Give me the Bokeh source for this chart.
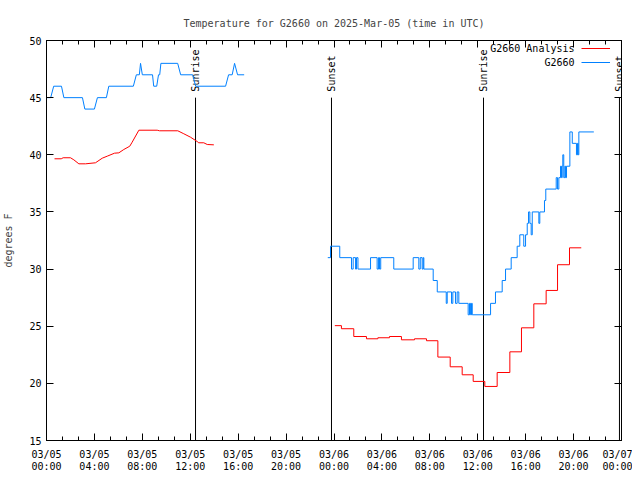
import pandas as pd
from math import pi
from bokeh.plotting import figure
from bokeh.models import (Range1d, FixedTicker, DatetimeTickFormatter, LinearAxis,
                          DatetimeAxis, Legend, LegendItem, Label)
from bokeh.core.properties import value
from bokeh.embed import file_html
from bokeh.resources import INLINE

FONT = "DejaVu Sans Mono"
START = pd.Timestamp("2025-03-05 00:00")
END = pd.Timestamp("2025-03-07 00:00")
Y_MIN, Y_MAX = 15, 50
LABEL_LEVEL = 45

# ---- data (hours since 03/05 00:00 UTC, degrees F) ----
obs1_hours = [0.05, 0.35, 0.6, 1.25, 1.45, 3.0, 3.2, 4.0, 4.25, 5.0, 5.2, 7.25, 7.5,
              7.75, 7.85, 8.0, 8.85, 8.95, 9.2, 9.35, 9.45, 9.55, 10.95, 11.2, 12.2,
              12.45, 14.95, 15.2, 15.5, 15.7, 15.95, 16.5]
obs1_temp = [45, 45, 46, 46, 45, 45, 44, 44, 45, 45, 46, 46, 47,
             47, 48, 47, 47, 46, 46, 47, 47, 48, 48, 47, 47,
             46, 46, 47, 47, 48, 47, 47]

obs2_hours = [23.48, 23.71, 24.48, 25.46, 25.6, 25.8, 25.88, 26.0, 27.05, 27.6, 27.72,
              27.8, 27.9, 28.99, 30.61, 31.08, 31.2, 31.36, 31.45, 31.5, 32.28, 32.62,
              33.37, 33.45, 33.81, 33.92, 34.14, 34.28, 34.42, 35.2, 35.31, 35.4, 35.48,
              35.54, 37.07, 37.48, 38.04, 38.32, 38.79, 39.29, 39.51, 39.84, 39.99,
              40.13, 40.24, 40.35, 40.46, 40.55, 41.1, 41.18, 41.57, 41.68, 42.55,
              42.66, 42.77, 42.91, 42.99, 43.05, 43.1, 43.18, 43.27, 43.33, 43.41,
              43.69, 43.89, 44.24, 44.33, 44.38, 44.44, 45.69]
obs2_temp = [31, 32, 31, 30, 31, 30, 31, 30, 31, 30, 31,
             30, 31, 30, 31, 30, 31, 30, 31, 30, 29, 28,
             27, 28, 27, 28, 27, 28, 27, 26, 27, 26, 27,
             26, 27, 28, 29, 30, 31, 32, 33, 32, 33,
             34, 35, 34, 33, 35, 34, 35, 36, 37, 38,
             37, 38, 39, 38, 39, 40, 38, 39, 38, 39,
             42, 41, 40, 41, 40, 42, 42]

ana1_hours = [0.67, 1.23, 1.39, 2.0, 2.28, 2.70, 3.26, 4.09, 4.65, 5.07, 5.68, 6.04,
              6.45, 6.95, 7.15, 7.71, 9.24, 9.43, 10.96, 11.46, 12.02, 12.58, 12.71,
              13.13, 13.42, 13.97]
ana1_temp = [39.65, 39.65, 39.74, 39.74, 39.56, 39.21, 39.21, 39.3, 39.7, 39.88, 40.14,
             40.17, 40.46, 40.75, 41.1, 42.15, 42.15, 42.1, 42.1, 41.84, 41.54, 41.16,
             41.05, 41.05, 40.9, 40.87]

ana2_hours = [24.07, 24.62, 25.65, 26.71, 27.66, 28.63, 29.63, 30.72, 31.72, 32.67,
              33.70, 34.70, 35.62, 36.59, 37.62, 38.68, 39.65, 40.68, 41.71, 42.66,
              43.66, 44.64]
ana2_temp = [25.05, 24.78, 24.1, 23.9, 23.99, 24.1, 23.81, 23.9, 23.73, 22.3,
             21.45, 20.75, 20.17, 19.73, 20.95, 22.76, 24.86, 26.96, 28.13, 30.38,
             31.86, 31.86]

event_hours = [12.44, 23.79, 36.48, 47.83]
event_labels = ["Sunrise", "Sunset", "Sunrise", "Sunset"]

series_names = ["G2660 Analysis", "G2660"]
RED = "#ff0000"
BLUE = "#0080ff"


def to_time(hours):
    return [START + pd.Timedelta(hours=h) for h in hours]


def ms(ts):
    return ts.value / 1e6


p = figure(frame_width=575, frame_height=400, x_axis_type=None, y_axis_type=None,
           x_range=Range1d(START.to_pydatetime(), END.to_pydatetime()),
           y_range=Range1d(Y_MIN, Y_MAX),
           output_backend="svg", toolbar_location=None,
           min_border_left=38, min_border_right=11, min_border_top=40,
           min_border_bottom=32)
p.background_fill_color = "white"
p.border_fill_color = "white"
p.outline_line_color = "black"
p.outline_line_width = 1

p.title.text = "Temperature for G2660 on 2025-Mar-05 (time in UTC)"
p.title.align = "center"
p.title.text_font = FONT
p.title.text_font_size = "10px"
p.title.text_font_style = "normal"
p.title.standoff = 24

major = [ms(START + pd.Timedelta(hours=4 * i)) for i in range(13)]
minor = [ms(START + pd.Timedelta(minutes=80 * i)) for i in range(37)]
fmt = "%m/%d\n%H:%M"
xfmt = DatetimeTickFormatter(hours=fmt, hourmin=fmt, days=fmt, minutes=fmt,
                             minsec=fmt, months=fmt, years=fmt)


def style_axis(ax, labels=True):
    ax.major_tick_in = 7
    ax.major_tick_out = 0
    ax.minor_tick_in = 4
    ax.minor_tick_out = 0
    ax.axis_line_color = "black"
    ax.major_tick_line_color = "black"
    ax.minor_tick_line_color = "black"
    ax.major_label_text_font = FONT
    if labels:
        ax.major_label_text_font_size = "10px"
        ax.major_label_text_color = "black"
    else:
        ax.major_label_text_font_size = "1px"
        ax.major_label_text_color = None
        ax.major_label_standoff = 0


xb = DatetimeAxis(ticker=FixedTicker(ticks=major, minor_ticks=minor), formatter=xfmt)
style_axis(xb)
xb.major_label_standoff = 8
xb.major_label_text_line_height = 1.18
p.add_layout(xb, "below")

xt = DatetimeAxis(ticker=FixedTicker(ticks=major, minor_ticks=minor), formatter=xfmt)
style_axis(xt, labels=False)
p.add_layout(xt, "above")

yticks = list(range(Y_MIN, Y_MAX + 1, 5))
yl = LinearAxis(ticker=FixedTicker(ticks=yticks, minor_ticks=[]), axis_label="degrees F")
style_axis(yl)
yl.major_label_standoff = 5
yl.axis_label_text_font = FONT
yl.axis_label_text_font_size = "10px"
yl.axis_label_text_font_style = "normal"
yl.axis_label_standoff = 12
p.add_layout(yl, "left")

yr = LinearAxis(ticker=FixedTicker(ticks=yticks, minor_ticks=[]))
style_axis(yr, labels=False)
p.add_layout(yr, "right")

p.xgrid.visible = False
p.ygrid.visible = False

# sunrise / sunset markers
ev_t = to_time(event_hours)
p.segment(x0=ev_t, y0=[Y_MIN] * len(ev_t), x1=ev_t, y1=[LABEL_LEVEL] * len(ev_t),
          line_color="black", line_width=1)
p.text(x=ev_t, y=[LABEL_LEVEL] * len(ev_t), text=event_labels, angle=pi / 2,
       text_align="left", text_baseline="middle", y_offset=-6,
       text_font=value(FONT), text_font_size=value("10px"), text_color="black")

# series
r_a1 = p.line(to_time(ana1_hours), ana1_temp, line_color=RED, line_width=1)
p.step(to_time(ana2_hours), ana2_temp, mode="after", line_color=RED, line_width=1)
r_o1 = p.line(to_time(obs1_hours), obs1_temp, line_color=BLUE, line_width=1)
p.step(to_time(obs2_hours), obs2_temp, mode="after", line_color=BLUE, line_width=1)

# legend: line samples on the right, right-aligned texts on the left
legend = Legend(items=[LegendItem(label=value(" "), renderers=[r_a1]),
                       LegendItem(label=value(" "), renderers=[r_o1])],
                location=(535, 371), orientation="vertical", glyph_width=29,
                glyph_height=14, label_height=14, label_width=0, label_standoff=0,
                padding=0, spacing=0, margin=0, border_line_alpha=0,
                background_fill_alpha=0, label_text_font_size="1px",
                label_text_alpha=0)
p.add_layout(legend)
for i, name in enumerate(series_names):
    p.add_layout(Label(x=528, y=392 - 14 * i, x_units="screen", y_units="screen",
                       text=name, text_align="right", text_baseline="middle",
                       text_font=FONT, text_font_size="10px", text_color="black"))

open("out.html", "w").write(file_html(p, INLINE))
